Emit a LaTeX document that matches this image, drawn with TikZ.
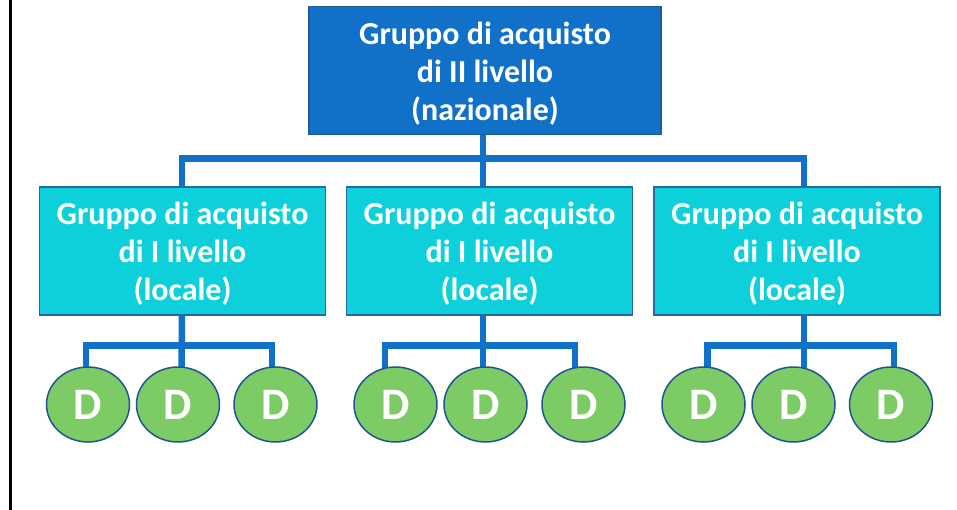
\documentclass[tikz,border=0pt]{standalone}
\usepackage{fontspec}
\setmainfont{Carlito}
\usetikzlibrary{shapes.geometric,backgrounds}
\definecolor{topfill}{HTML}{1170C8}
\definecolor{topdraw}{HTML}{1F5B9A}
\definecolor{locfill}{HTML}{0DD0DA}
\definecolor{locdraw}{HTML}{2A66A8}
\definecolor{dfill}{HTML}{7CCB64}
\definecolor{ddraw}{HTML}{1F5592}
\definecolor{link}{HTML}{1170C8}
\newcommand\boxtext[1]{\raisebox{-4pt}[\height][\depth]{\begin{tabular}{@{}c@{}}#1\end{tabular}}}
\begin{document}
\begin{tikzpicture}[x=1pt,y=-1pt,
  topbox/.style={draw=topdraw,line width=1.5pt,fill=topfill,text=white,align=center,
    minimum width=352pt,minimum height=128pt,inner sep=0pt,
    font=\bfseries\fontsize{32}{38}\selectfont},
  locbox/.style={draw=locdraw,line width=1.5pt,fill=locfill,text=white,align=center,
    minimum width=286pt,minimum height=128pt,inner sep=0pt,
    font=\bfseries\fontsize{32}{38}\selectfont},
  dnode/.style={ellipse,draw=ddraw,line width=1.5pt,fill=dfill,text=white,
    minimum width=83pt,minimum height=75pt,inner sep=0pt,
    font=\bfseries\fontsize{45}{45}\selectfont},
  linkline/.style={draw=link,line width=6.5pt,line cap=rect,line join=miter}]
\useasboundingbox (0,0) rectangle (957,510);

\node[topbox] (top) at (485,70.5) {\boxtext{Gruppo di acquisto\\di II livello\\(nazionale)}};
\node[locbox] (b1) at (182.5,251) {\boxtext{Gruppo di acquisto\\di I livello\\(locale)}};
\node[locbox] (b2) at (489.5,251) {\boxtext{Gruppo di acquisto\\di I livello\\(locale)}};
\node[locbox] (b3) at (797,251) {\boxtext{Gruppo di acquisto\\di I livello\\(locale)}};

\node[dnode] (d11) at (88,404.5) {D};
\node[dnode] (d12) at (178,404.5) {D};
\node[dnode] (d13) at (275.5,404.5) {D};
\node[dnode] (d21) at (395.5,404.5) {D};
\node[dnode] (d22) at (485.5,404.5) {D};
\node[dnode] (d23) at (583.5,404.5) {D};
\node[dnode] (d31) at (703.5,404.5) {D};
\node[dnode] (d32) at (793.5,404.5) {D};
\node[dnode] (d33) at (891,404.5) {D};

\begin{scope}[on background layer]
\fill[white] (0,0) rectangle (957,510);
\coordinate (lt) at (10.5,0);
\coordinate (lb) at (10.5,510);
\draw[line width=3pt,black] (lt) -- (lb);

% top level connectors
\draw[linkline] ([xshift=-2pt]top.south) -- ++(0,23.5) -| ([xshift=-0.5pt]b1.north);
\draw[linkline] ([xshift=-2pt]top.south) -- ([xshift=-6.5pt]b2.north);
\draw[linkline] ([xshift=-2pt]top.south) -- ++(0,23.5) -| ([xshift=7pt]b3.north);

% group connectors
\draw[linkline] ([xshift=-0.5pt]b1.south) -- ++(0,29.5) -| ([xshift=-2pt]d11.north);
\draw[linkline] ([xshift=-0.5pt]b1.south) -- ++(0,29.5) -| ([xshift=-3.5pt]d13.north);
\draw[linkline] ([xshift=-0.5pt]b1.south) -- ([xshift=3.5pt]d12.north);
\draw[linkline] ([xshift=-6.5pt]b2.south) -- ++(0,29.5) -| ([xshift=-10.5pt]d21.north);
\draw[linkline] ([xshift=-6.5pt]b2.south) -- ++(0,29.5) -| ([xshift=-8.5pt]d23.north);
\draw[linkline] ([xshift=-6.5pt]b2.south) -- ([xshift=-2.5pt]d22.north);
\draw[linkline] ([xshift=7pt]b3.south) -- ++(0,29.5) -| ([xshift=4pt]d31.north);
\draw[linkline] ([xshift=7pt]b3.south) -- ++(0,29.5) -| ([xshift=3pt]d33.north);
\draw[linkline] ([xshift=7pt]b3.south) -- ([xshift=10.5pt]d32.north);
\end{scope}
\end{tikzpicture}
\end{document}
